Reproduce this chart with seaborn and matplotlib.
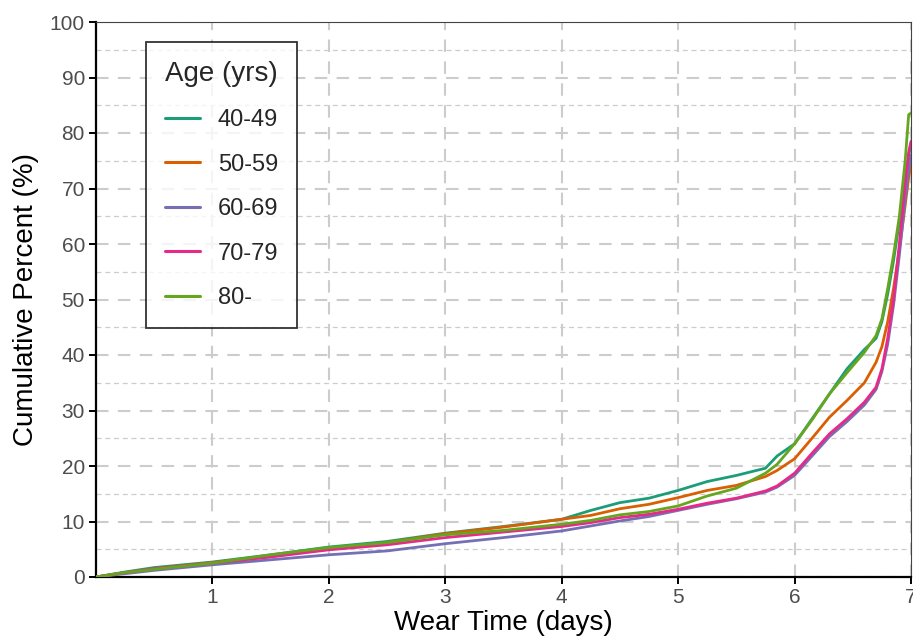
import numpy as np
import pandas as pd
import seaborn as sns
import matplotlib
matplotlib.use("Agg")
import matplotlib.pyplot as plt

# ---------------- data ----------------
days = [0, 0.25, 0.5, 1, 1.5, 2, 2.5, 3, 3.5, 4, 4.25, 4.5, 4.75, 5, 5.25, 5.5,
        5.75, 5.85, 6, 6.15, 6.3, 6.45, 6.6, 6.7, 6.75, 6.8, 6.85, 6.9, 6.95, 6.98, 7.0]

age_groups = ["40-49", "50-59", "60-69", "70-79", "80-"]

pct_40_49 = [0, 0.9, 1.7, 2.7, 4.0, 5.4, 6.4, 7.9, 9.1, 10.4, 12.0, 13.4, 14.2, 15.6, 17.2, 18.3,
             19.6, 21.8, 24.0, 28.5, 33.0, 37.5, 41.0, 43.0, 46.0, 51.0, 57.0, 64.0, 72.0, 76.0, 78.0]
pct_50_59 = [0, 0.8, 1.5, 2.6, 3.8, 5.0, 6.2, 7.8, 9.0, 10.4, 11.1, 12.3, 13.1, 14.3, 15.6, 16.5,
             18.1, 19.2, 21.3, 25.0, 28.8, 31.8, 35.0, 38.7, 41.5, 46.0, 52.0, 59.0, 67.0, 72.0, 74.6]
pct_60_69 = [0, 0.6, 1.2, 2.2, 3.1, 4.0, 4.7, 6.0, 7.1, 8.3, 9.2, 10.1, 10.9, 12.0, 13.1, 14.1,
             15.3, 16.2, 18.3, 21.8, 25.3, 28.0, 31.0, 33.8, 37.0, 42.0, 49.0, 58.0, 68.0, 73.5, 76.0]
pct_70_79 = [0, 0.8, 1.5, 2.5, 3.6, 4.9, 5.8, 7.1, 8.1, 9.1, 9.8, 10.7, 11.3, 12.2, 13.3, 14.2,
             15.5, 16.4, 18.7, 22.3, 25.8, 28.5, 31.5, 34.2, 37.5, 43.0, 50.0, 60.0, 71.0, 76.5, 78.5]
pct_80_plus = [0, 0.8, 1.4, 2.5, 4.0, 5.3, 6.2, 7.6, 8.4, 9.5, 10.2, 11.2, 11.8, 12.8, 14.6, 16.0,
               18.7, 20.3, 24.0, 28.3, 33.0, 36.8, 40.5, 43.5, 46.5, 52.0, 58.0, 65.0, 75.0, 83.3, 83.6]

x_ticks = [1, 2, 3, 4, 5, 6, 7]
y_ticks = [0, 10, 20, 30, 40, 50, 60, 70, 80, 90, 100]

series = [pct_40_49, pct_50_59, pct_60_69, pct_70_79, pct_80_plus]
df = pd.concat(
    [pd.DataFrame({"days": days, "pct": vals, "Age (yrs)": grp}) for grp, vals in zip(age_groups, series)],
    ignore_index=True,
)

# ---------------- figure ----------------
sns.set_theme(style="white")
plt.rcParams["font.family"] = ["Liberation Sans", "DejaVu Sans"]

W, H = 913, 641
fig = plt.figure(figsize=(W / 100, H / 100), dpi=100)
ax = fig.add_axes([96 / W, 64 / H, 815 / W, 555 / H])

palette = ["#1B9E77", "#D95F02", "#7570B3", "#E7298A", "#66A61E"]
sns.lineplot(data=df, x="days", y="pct", hue="Age (yrs)", hue_order=age_groups,
             palette=palette, linewidth=2.0, estimator=None, sort=False, ax=ax, zorder=3)

ax.set_xlim(0, 7)
ax.set_ylim(0, 100)
ax.set_xticks(x_ticks)
ax.set_xticklabels([str(t) for t in x_ticks])
ax.set_yticks(y_ticks)
ax.set_yticks([5, 15, 25, 35, 45, 55, 65, 75, 85, 95], minor=True)

grid_col = "#cccccc"
ax.grid(True, which="major", axis="both", color=grid_col, linewidth=1.5, linestyle=(0, (6, 4.5)))
ax.grid(True, which="minor", axis="y", color=grid_col, linewidth=0.9, linestyle=(0, (4, 3)))
ax.set_axisbelow(True)

for side in ["left", "bottom"]:
    ax.spines[side].set_color("black")
    ax.spines[side].set_linewidth(1.6)
for side in ["top", "right"]:
    ax.spines[side].set_color("#444444")
    ax.spines[side].set_linewidth(0.8)

ax.tick_params(axis="both", which="major", direction="out", length=5, width=1.4,
               color="black", labelsize=15, labelcolor="#4d4d4d", pad=3,
               bottom=True, left=True)
ax.tick_params(axis="both", which="minor", length=0)

ax.set_xlabel("Wear Time (days)", fontsize=20, color="black", labelpad=2)
ax.set_ylabel("Cumulative Percent (%)", fontsize=20, color="black", labelpad=8)

leg = ax.legend(title="Age (yrs)", loc="upper left", bbox_to_anchor=(0.0613, 0.964),
                borderaxespad=0, frameon=True, fancybox=False, fontsize=17, title_fontsize=20,
                handlelength=1.5, handletextpad=0.75, labelspacing=0.95, borderpad=0.8)
leg.get_frame().set_edgecolor("black")
leg.get_frame().set_linewidth(1.3)
leg._legend_box.align = "left"
for line in leg.get_lines():
    line.set_linewidth(2.2)

fig.savefig("out.png", dpi=100)
